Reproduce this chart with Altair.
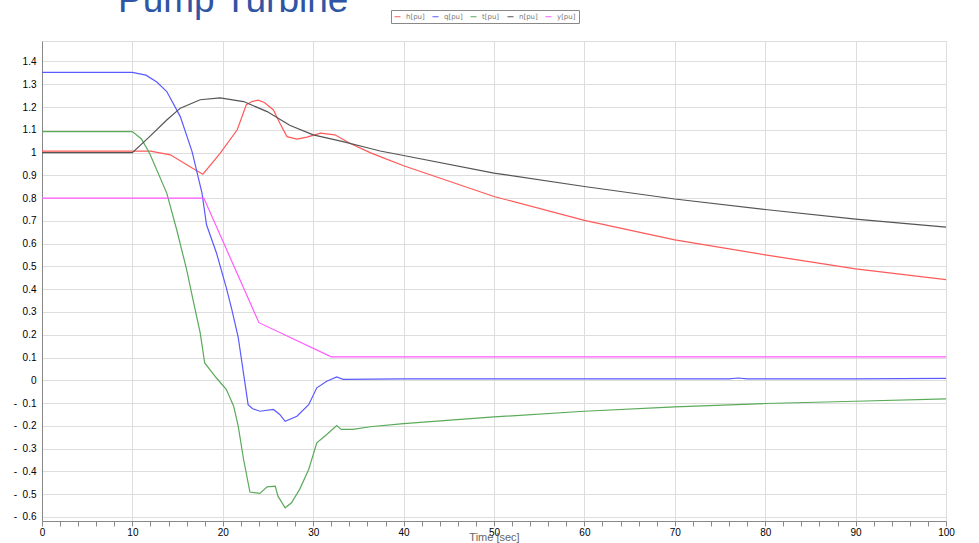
import altair as alt
import pandas as pd

# ---- simulated pump-turbine load rejection, per-unit quantities ----
h_time = [0, 10, 12, 14.2, 16.7, 17.8, 19.7, 21.6, 22.6, 23.3, 23.9, 24.6, 25.6, 26.3,
          27.1, 28.2, 29.3, 30.8, 32.4, 34.1, 36.3, 37.4, 40, 50, 60, 70, 80, 90, 100]
h_vals = [1.006, 1.006, 1.006, 0.99, 0.93, 0.905, 0.997, 1.10, 1.21, 1.225, 1.23, 1.22,
          1.187, 1.13, 1.07, 1.059, 1.068, 1.085, 1.078, 1.04, 1.00, 0.982, 0.942, 0.807,
          0.702, 0.617, 0.551, 0.489, 0.442]

q_time = [0, 10, 11.5, 12.7, 13.8, 15.3, 16.6, 17.7, 18.2, 19.3, 20.4, 21.0, 21.7, 22.5,
          22.8, 23.3, 24.1, 25.6, 26.3, 26.9, 28.2, 29.5, 30.4, 31.5, 32.6, 33.3, 40, 50,
          60, 70, 76, 77, 78, 80, 90, 100]
q_vals = [1.352, 1.352, 1.34, 1.31, 1.268, 1.158, 1.004, 0.822, 0.683, 0.559, 0.405, 0.31,
          0.19, -0.026, -0.107, -0.125, -0.136, -0.128, -0.15, -0.18, -0.158, -0.107,
          -0.033, -0.004, 0.015, 0.004, 0.006, 0.006, 0.006, 0.006, 0.006, 0.01, 0.006,
          0.006, 0.006, 0.008]

t_time = [0, 10, 11, 11.9, 13.8, 14.9, 16.0, 16.7, 17.5, 18.0, 19.3, 20.4, 21.2, 21.7,
          22.3, 23.0, 24.1, 24.9, 25.8, 26.1, 26.9, 27.6, 28.5, 29.5, 30.4, 31.5, 32.6,
          33.1, 34.4, 36.3, 40, 50, 60, 70, 80, 90, 100]
t_vals = [1.092, 1.092, 1.06, 0.997, 0.822, 0.661, 0.486, 0.354, 0.208, 0.076, 0.01,
          -0.041, -0.114, -0.2, -0.348, -0.491, -0.497, -0.468, -0.465, -0.509, -0.56,
          -0.538, -0.479, -0.392, -0.275, -0.238, -0.199, -0.216, -0.216, -0.204, -0.19,
          -0.161, -0.136, -0.117, -0.102, -0.092, -0.082]

n_time = [0, 10, 11.9, 13.8, 15.3, 17.5, 19.7, 22.3, 24.9, 27.4, 30, 33.3, 36.1, 37.4,
          40, 50, 60, 70, 80, 90, 100]
n_vals = [1.0, 1.0, 1.07, 1.143, 1.195, 1.232, 1.24, 1.224, 1.18, 1.12, 1.078, 1.048,
          1.02, 1.007, 0.987, 0.91, 0.851, 0.796, 0.75, 0.708, 0.673]

y_time = [0, 17.9, 24, 32, 100]
y_vals = [0.8, 0.8, 0.253, 0.103, 0.103]

series_names = ["h[pu]", "q[pu]", "t[pu]", "n[pu]", "y[pu]"]
series_colors = ["#ff5a5a", "#5a5aff", "#5aaa5a", "#555555", "#ff5aff"]

title_text = ["Pump Turbine"]

frames = []
for name, ts, vs in zip(series_names,
                        [h_time, q_time, t_time, n_time, y_time],
                        [h_vals, q_vals, t_vals, n_vals, y_vals]):
    frames.append(pd.DataFrame({"series": name, "time": ts, "value": vs, "idx": range(len(ts))}))
df = pd.concat(frames, ignore_index=True)

y_ticks = [round(-0.6 + 0.1 * i, 1) for i in range(21)]
x_ticks = list(range(0, 101, 2))

lines = alt.Chart(df).mark_line(strokeWidth=1.2, interpolate="linear").encode(
    x=alt.X("time:Q",
            scale=alt.Scale(domain=[0, 100], nice=False, zero=False),
            axis=alt.Axis(values=x_ticks,
                          labelExpr="datum.value % 10 == 0 ? datum.label : ''",
                          gridOpacity={"condition": {"test": "datum.value % 10 === 0", "value": 1}, "value": 0},
                          title="Time [sec]", labelOverlap=False, labelFlush=False,
                          labelPadding=1, titleY=19, titleBaseline="alphabetic",
                          titleFontWeight="normal", titleColor="#666666")),
    y=alt.Y("value:Q",
            scale=alt.Scale(domain=[-0.618, 1.49], nice=False, zero=False),
            axis=alt.Axis(values=y_ticks,
                          labelExpr="datum.value < 0 ? '-\u00a0\u00a0' + format(-datum.value, '~g') : format(datum.value, '~g')",
                          title=None, labelOverlap=False, tickSize=0, labelPadding=6)),
    color=alt.Color("series:N",
                    scale=alt.Scale(domain=series_names, range=series_colors),
                    legend=alt.Legend(orient="none", legendX=349, legendY=-31,
                                      direction="horizontal", columns=5, title=None,
                                      symbolType="stroke", symbolSize=36, symbolStrokeWidth=1,
                                      labelFontSize=7, labelColor="#777", labelFont="DejaVu Sans",
                                      strokeColor="#888", fillColor="white", padding=3,
                                      columnPadding=5, labelOffset=5, cornerRadius=0)),
    detail="series:N",
    order="idx:Q",
)

# heading drawn above the plot frame, partly clipped by the page edge
heading = alt.Chart(pd.DataFrame({"label": title_text})).mark_text(
    align="left", baseline="alphabetic", fontSize=37, font="Liberation Sans",
    color="#2f55a4"
).encode(text="label:N", x=alt.value(76), y=alt.value(-29))

chart = alt.layer(lines, heading).properties(
    width=904,
    height=480,
    autosize=alt.AutoSizeParams(type="none"),
    padding={"left": 42, "top": 41, "right": 33, "bottom": 22},
).configure_view(
    stroke="#999999", strokeWidth=1.5
).configure_axis(
    gridColor="#bdbdbd", gridDash=[1.5, 1.5], gridWidth=1,
    domainColor="#808080", domainWidth=2.2,
    tickColor="#888888", tickSize=3,
    labelFont="DejaVu Sans", labelFontSize=7, labelColor="#555555",
    titleFont="DejaVu Sans", titleFontSize=7, titleFontWeight="normal",
    titleColor="#666666", labelPadding=3
).configure(background="white")

chart.save("out.html", embed_options={"renderer": "svg", "actions": False})
